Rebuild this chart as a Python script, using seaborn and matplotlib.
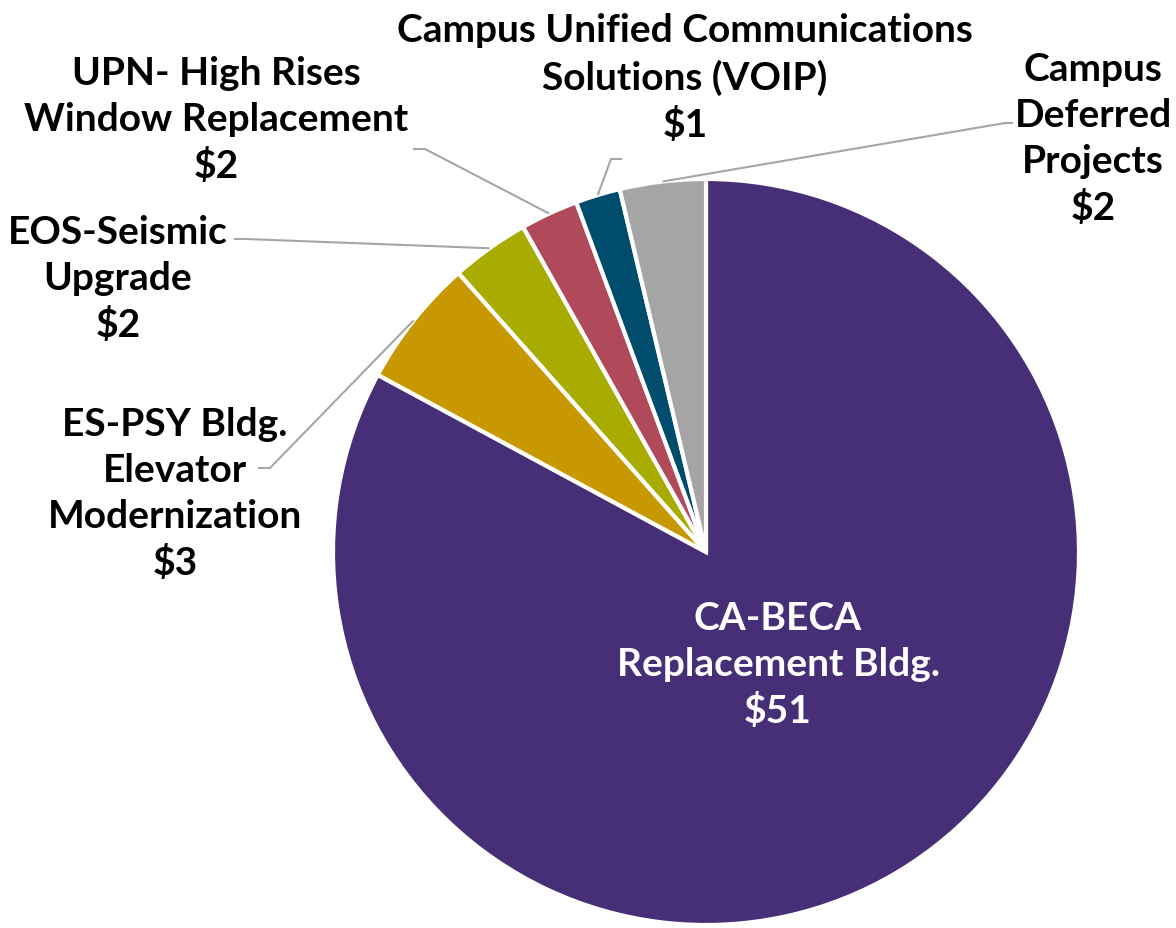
import numpy as np
import matplotlib
matplotlib.use("Agg")
import matplotlib.pyplot as plt
import seaborn as sns

# ---- data ----
categories = [
    "CA-BECA\nReplacement Bldg.",
    "ES-PSY Bldg.\nElevator\nModernization",
    "EOS-Seismic\nUpgrade",
    "UPN- High Rises\nWindow Replacement",
    "Campus Unified Communications\nSolutions (VOIP)",
    "Campus\nDeferred\nProjects",
]
values = [51.3, 3.45, 2.1, 1.55, 1.2, 2.3]
colors = ["#472F77", "#C89800", "#A8AC00", "#B04A5B", "#004C6D", "#A5A5A5"]

# ---- layout (pixel coordinates, y measured from top) ----
W, H = 1176, 929
center_px = (706, 553)
radius_px = 373
label_pos = [(778, 665), (175, 494), (118, 279), (216, 120), (685, 78), (1093, 139)]
# leader: text-side end, elbow (None for first label which sits inside)
leader_pts = [None,
              [(258, 469), (270, 469)],
              [(234, 240), (246, 240)],
              [(413, 150), (425, 150)],
              [(622, 160), (611, 160)],
              [(1013, 124), (1005, 124)]]

sns.set_theme(style="white")
plt.rcParams["font.family"] = ["Lato", "DejaVu Sans"]

fig = plt.figure(figsize=(W / 100, H / 100), dpi=100)
ax = fig.add_axes([0, 0, 1, 1])

def fy(y):
    return H - y

pal = sns.color_palette(colors)
wedges, _ = ax.pie(values, colors=pal, startangle=90, counterclock=False,
                   center=(center_px[0], fy(center_px[1])), radius=radius_px,
                   wedgeprops=dict(edgecolor="white", linewidth=3))
ax.set_xlim(0, W)
ax.set_ylim(0, H)
ax.set_aspect("equal")
ax.axis("off")

for i, (w, cat, v) in enumerate(zip(wedges, categories, values)):
    lx, ly = label_pos[i]
    txt = f"{cat}\n${v:.0f}"
    col = "white" if i == 0 else "black"
    ax.text(lx, fy(ly), txt, ha="center", va="center", fontsize=28,
            fontweight="bold", color=col, linespacing=1.38)
    if leader_pts[i] is not None:
        mid = np.deg2rad((w.theta1 + w.theta2) / 2)
        ax_x = w.center[0] + w.r * np.cos(mid)
        ax_y = w.center[1] + w.r * np.sin(mid)
        (x0, y0), (x1, y1) = leader_pts[i]
        ax.plot([x0, x1, ax_x], [fy(y0), fy(y1), ax_y], color="#A6A6A6",
                lw=1.5, solid_capstyle="butt")

fig.savefig("out.png", dpi=100, facecolor="white")
